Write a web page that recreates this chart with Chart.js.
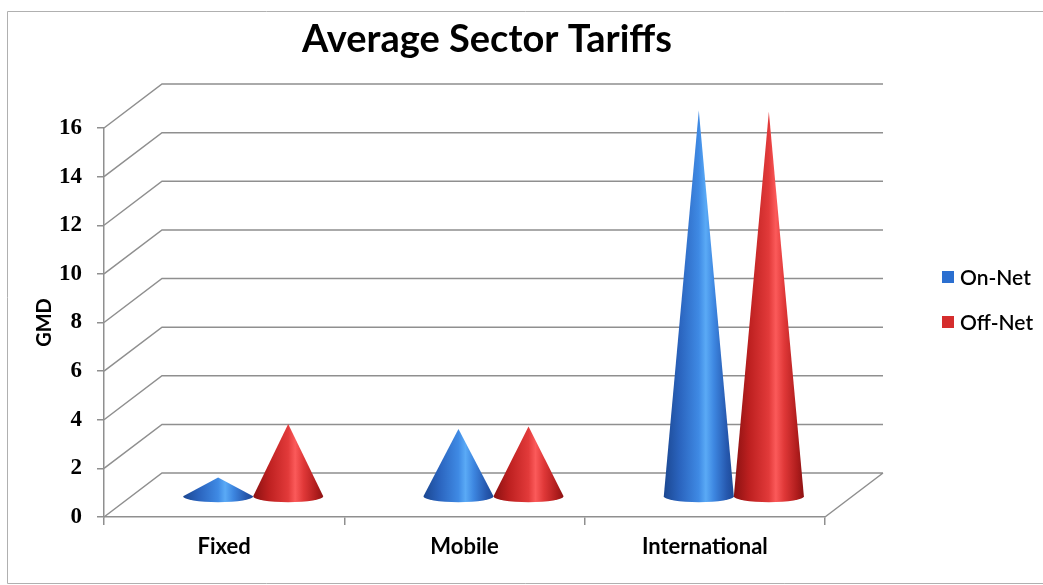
<!DOCTYPE html>
<html><head><meta charset="utf-8">
<script src="https://cdn.jsdelivr.net/npm/chart.js@4/dist/chart.umd.min.js"></script>
<style>html,body{margin:0;padding:0;background:#fff;overflow:hidden}</style>
</head><body>
<canvas id="c" width="1043" height="585"></canvas>
<script>
// ---- data ----
const categories = ['Fixed', 'Mobile', 'International'];
const seriesNames = ['On-Net', 'Off-Net'];
const onNet = [0.8, 2.8, 15.9];
const offNet = [3.0, 2.9, 15.85];
const yTickValues = [0, 2, 4, 6, 8, 10, 12, 14, 16];
const chartTitle = 'Average Sector Tariffs';
const yAxisTitle = 'GMD';

// ---- style ----
const DEPTH_X = 58, DEPTH_Y = -44;     // 3D wall offset
const CONE_DX = 29, CONE_DY = -20;     // cones sit mid-depth
const CONE_RY = 6;
const GRID = '#8f8f8f';
const legendColors = ['#2b6fd0', '#d52d2d'];
const coneStops = [
  [[0,'#1b4791'],[0.22,'#2a63bd'],[0.5,'#3f8ae4'],[0.6,'#5aaaf6'],[0.72,'#3d86e0'],[0.9,'#2658ae'],[1,'#1c4995']],
  [[0,'#8a1111'],[0.22,'#bd2020'],[0.5,'#e23a3a'],[0.6,'#fb5a5a'],[0.72,'#e03838'],[0.9,'#b01d1d'],[1,'#8c1313']]
];

const threeD = {
  id: 'threeD',
  beforeDraw(chart) {
    const ctx = chart.ctx;
    ctx.save();
    ctx.fillStyle = '#fff';
    ctx.fillRect(0, 0, chart.width, chart.height);
    ctx.strokeStyle = '#b0b0b0';
    ctx.lineWidth = 1;
    ctx.beginPath();
    ctx.moveTo(chart.width + 2, 11.5); ctx.lineTo(7.5, 11.5); ctx.lineTo(7.5, 583.5); ctx.lineTo(chart.width + 2, 583.5);
    ctx.stroke();
    ctx.restore();
  },
  beforeDatasetsDraw(chart) {
    const ctx = chart.ctx, y = chart.scales.y, a = chart.chartArea;
    ctx.save();
    ctx.strokeStyle = GRID;
    ctx.lineWidth = 1.5;
    ctx.beginPath();
    y.ticks.forEach(t => {
      const py = y.getPixelForValue(t.value);
      ctx.moveTo(a.left, py);
      ctx.lineTo(a.left + DEPTH_X, py + DEPTH_Y);
      ctx.lineTo(a.right + DEPTH_X, py + DEPTH_Y);
    });
    const p0 = y.getPixelForValue(0);
    ctx.moveTo(a.right, p0);
    ctx.lineTo(a.right + DEPTH_X, p0 + DEPTH_Y);
    ctx.stroke();
    ctx.restore();
  },
  afterDatasetsDraw(chart) {
    const ctx = chart.ctx;
    ctx.save();
    chart.data.datasets.forEach((ds, di) => {
      const meta = chart.getDatasetMeta(di);
      meta.data.forEach(bar => {
        const p = bar.getProps(['x', 'y', 'base', 'width'], true);
        const cx = p.x + CONE_DX, by = p.base + CONE_DY, ay = p.y + CONE_DY, r = p.width / 2;
        const g = ctx.createLinearGradient(cx - r, 0, cx + r, 0);
        coneStops[di].forEach(s => g.addColorStop(s[0], s[1]));
        ctx.fillStyle = g;
        ctx.beginPath();
        ctx.moveTo(cx, ay);
        ctx.lineTo(cx - r, by);
        ctx.ellipse(cx, by, r, CONE_RY, 0, Math.PI, 0, true);
        ctx.closePath();
        ctx.fill();
      });
    });
    ctx.restore();
  },
  afterDraw(chart) {
    const ctx = chart.ctx;
    ctx.save();
    const ys = [277, 322];
    chart.data.datasets.forEach((ds, i) => {
      ctx.fillStyle = legendColors[i];
      ctx.fillRect(942, ys[i] - 6, 12, 12);
      ctx.fillStyle = '#000';
      ctx.font = '600 21px Lato';
      ctx.textBaseline = 'middle';
      ctx.textAlign = 'left';
      ctx.fillText(ds.label, 960, ys[i] + 1);
    });
    ctx.restore();
  }
};

new Chart(document.getElementById('c'), {
  type: 'bar',
  data: {
    labels: categories,
    datasets: [
      { label: seriesNames[0], data: onNet, backgroundColor: 'rgba(0,0,0,0)', borderWidth: 0 },
      { label: seriesNames[1], data: offNet, backgroundColor: 'rgba(0,0,0,0)', borderWidth: 0 }
    ]
  },
  options: {
    responsive: false,
    animation: false,
    devicePixelRatio: 1,
    layout: { padding: { left: 7, right: 76, top: 0, bottom: 0 } },
    datasets: { bar: { categoryPercentage: 0.583, barPercentage: 1.0 } },
    plugins: {
      legend: { display: false },
      tooltip: { enabled: false },
      title: {
        display: true, text: chartTitle, color: '#000',
        font: { family: 'Lato', size: 38, weight: 'bold', lineHeight: 1.2 },
        padding: { top: 17, bottom: 65.4 }
      }
    },
    scales: {
      x: {
        grid: { display: true, drawOnChartArea: false, drawTicks: true, tickLength: 8, color: GRID, lineWidth: 1.5, offset: true },
        border: { display: true, color: GRID, width: 1.5 },
        ticks: { color: '#000', padding: 9, font: { family: 'Lato', size: 22, weight: 'bold' } },
        afterFit(s) { s.height = 68; }
      },
      y: {
        min: 0, max: 16,
        afterBuildTicks(s) { s.ticks = yTickValues.map(v => ({ value: v })); },
        grid: { display: true, drawOnChartArea: false, drawTicks: true, tickLength: 7, color: GRID, lineWidth: 1.5 },
        border: { display: true, color: GRID, width: 1.5 },
        ticks: { color: '#000', padding: 15, font: { family: 'Liberation Serif', size: 23, weight: 'bold' } },
        title: { display: true, text: yAxisTitle, color: '#000', padding: { top: 26, bottom: 0 }, font: { family: 'Lato', size: 20, weight: 'bold', lineHeight: 1.2 } },
        afterFit(s) { s.width = 97; }
      },
      ySpace: {
        position: 'right', display: true,
        ticks: { display: false }, grid: { display: false, drawTicks: false }, border: { display: false },
        afterFit(s) { s.width = 142; }
      }
    }
  },
  plugins: [threeD]
});
</script>
</body></html>
